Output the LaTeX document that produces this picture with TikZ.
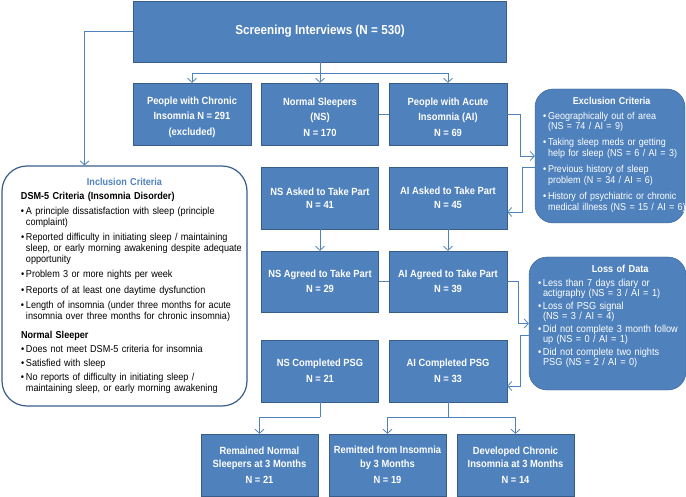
\documentclass[tikz,border=0pt]{standalone}
\usepackage{fontspec}
\setmainfont{Liberation Sans}[FakeStretch=0.9]
\usepackage{xcolor}
\usepackage{tikz}
\usetikzlibrary{arrows.meta}

\definecolor{boxblue}{HTML}{4F81BD}
\definecolor{edgeblue}{HTML}{385D8A}

\newlength{\critemwd}
\setlength{\critemwd}{230pt}
\newcommand{\critem}[1]{\makebox[5pt][l]{\textbullet}\parbox[t]{\critemwd}{#1}\par}

\begin{document}
\begin{tikzpicture}[x=1pt,y=-1pt,
    box/.style={draw=edgeblue,fill=boxblue,text=white,align=center,
      font=\fontsize{10.4}{13.5}\selectfont\bfseries,
      minimum width=117pt,minimum height=62pt,inner sep=2pt},
    sidebox/.style={draw=edgeblue,fill=boxblue,text=white,rounded corners=18pt,
      align=left,inner xsep=2pt,inner ysep=2pt},
    incbox/.style={draw=edgeblue,line width=1.2pt,rounded corners=25pt,
      align=left,text width=240pt,inner xsep=2.5pt,inner ysep=2pt,
      minimum height=240pt,font=\fontsize{10.1}{11}\selectfont},
    link/.style={draw=boxblue,line width=0.8pt},
    >={Straight Barb[length=4pt,width=9pt]}]
  \useasboundingbox (0,0) rectangle (686,497);

  \node[box,minimum width=373pt,minimum height=61pt,
    font=\fontsize{13}{15}\selectfont\bfseries] (screen) at (320,31.5)
    {Screening Interviews (N = 530)};

  \node[box,minimum width=118pt] (chronic) at (192,114)
    {\rule{0pt}{14pt}People with Chronic\\[2pt]Insomnia N = 291\\[2pt](excluded)};
  \node[box] (ns) at (320,114) {\rule{0pt}{14pt}Normal Sleepers\\[2pt](NS)\\[2pt]N = 170};
  \node[box,minimum width=118pt] (ai) at (448,114)
    {\rule{0pt}{14pt}People with Acute\\[2pt]Insomnia (AI)\\[2pt]N = 69};

  \node[box] (nsask) at (320,198) {NS Asked to Take Part\\N = 41};
  \node[box,minimum width=118pt] (aiask) at (448,198) {AI Asked to Take Part\\N = 45};

  \node[box,minimum height=61pt] (nsagree) at (320,281.5)
    {NS Agreed to Take Part\\[1.5pt]N = 29};
  \node[box,minimum width=118pt,minimum height=61pt] (aiagree) at (448,281.5)
    {AI Agreed to Take Part\\[1.5pt]N = 39};

  \node[box] (nsdone) at (320,371) {NS Completed PSG\\[2.5pt]N = 21};
  \node[box,minimum width=118pt] (aidone) at (448,371) {AI Completed PSG\\[2.5pt]N = 33};

  \node[box] (remain) at (259.5,465)
    {Remained Normal\\Sleepers at 3 Months\\[2.5pt]N = 21};
  \node[box] (remit) at (387.5,465)
    {Remitted from Insomnia\\by 3 Months\\[2.5pt]N = 19};
  \node[box] (develop) at (515.5,465)
    {Developed Chronic\\Insomnia at 3 Months\\[2.5pt]N = 14};

  \node[incbox] (incl) at (124.5,286) {%
    \parindent=0pt\parskip=4.5pt
    {\centering\color{boxblue}\bfseries Inclusion Criteria\par}
    \vspace{-2pt}
    \leftskip=16.5pt
    {\bfseries DSM-5 Criteria (Insomnia Disorder)\par}
    \critem{A principle dissatisfaction with sleep (principle\newline complaint)}
    \critem{Reported difficulty in initiating sleep / maintaining\newline sleep, or early morning awakening despite adequate\newline opportunity}
    \critem{Problem 3 or more nights per week}
    \critem{Reports of at least one daytime dysfunction}
    \critem{Length of insomnia (under three months for acute\newline insomnia over three months for chronic insomnia)}
    \vspace{4pt}
    {\bfseries Normal Sleeper\par}
    \parskip=3pt
    \critem{Does not meet DSM-5 criteria for insomnia}
    \critem{Satisfied with sleep}
    \critem{No reports of difficulty in initiating sleep /\newline maintaining sleep, or early morning awakening}
    \vspace{-2pt}};

  \node[sidebox,text width=146pt,minimum height=134pt,
    font=\fontsize{10}{10.5}\selectfont] (excl) at (610,156) {%
    \parindent=0pt\parskip=6pt\lineskiplimit=-4pt
    \setlength{\critemwd}{150pt}
    {\centering\bfseries Exclusion Criteria\par}
    \vspace{-1.5pt}
    \leftskip=6pt
    \critem{Geographically out of area\newline (NS = 74 / AI = 9)}
    \critem{Taking sleep meds or getting\newline help for sleep (NS = 6 / AI = 3)}
    \critem{Previous history of sleep\newline problem (N = 34 / AI = 6)}
    \critem{History of psychiatric or chronic\newline medical illness (NS = 15 / AI = 6)}
    \vspace{3pt}};

  \node[sidebox,text width=153pt,minimum height=133pt,
    font=\fontsize{10.2}{10}\selectfont] (loss) at (607.5,323.5) {%
    \parindent=0pt\parskip=2.5pt\lineskiplimit=-4pt
    \setlength{\critemwd}{155pt}
    {\centering\hspace*{22pt}\bfseries Loss of Data\par}
    \vspace{2pt}
    \leftskip=7pt
    \critem{Less than 7 days diary or\newline actigraphy (NS = 3 / AI = 1)}
    \critem{Loss of PSG signal\newline (NS = 3 / AI = 4)}
    \critem{Did not complete 3 month follow\newline up (NS = 0 / AI = 1)}
    \critem{Did not complete two nights\newline PSG (NS = 2 / AI = 0)}
    \vspace{14pt}};

  \coordinate (split) at (320,73);
  \coordinate (nsfork) at (320,417);
  \coordinate (aifork) at (448,417);

  \draw[link] (screen) -- (split);
  \draw[link,->] (split) -| (chronic);
  \draw[link,->] (split) -- (ns);
  \draw[link,->] (split) -| (ai);
  \draw[link,->] (screen.west) -| ([xshift=-40pt]incl.north);

  \draw[link] (ns) -- (ai);
  \draw[link,->] (ai.east) -- ++(13,0) |- (excl.west);
  \draw[link,->] ([yshift=-11pt]excl.west) -- ++(-12,0) |- ([yshift=-14pt]aiask.east);

  \draw[link,->] (nsask) -- (nsagree);
  \draw[link,->] (aiask) -- (aiagree);

  \draw[link] (nsagree) -- (aiagree);
  \draw[link,->] (aiagree.east) -- ++(11,0) |- (loss.west);
  \draw[link,->] ([yshift=-11.5pt]loss.west) -- ++(-8,0) |- ([yshift=-15pt]aidone.east);

  \draw[link] (nsdone) -- (nsfork);
  \draw[link,->] (nsfork) -| (remain);
  \draw[link] (aidone) -- (aifork);
  \draw[link,->] (aifork) -| (remit);
  \draw[link,->] (aifork) -| (develop);
\end{tikzpicture}
\end{document}
